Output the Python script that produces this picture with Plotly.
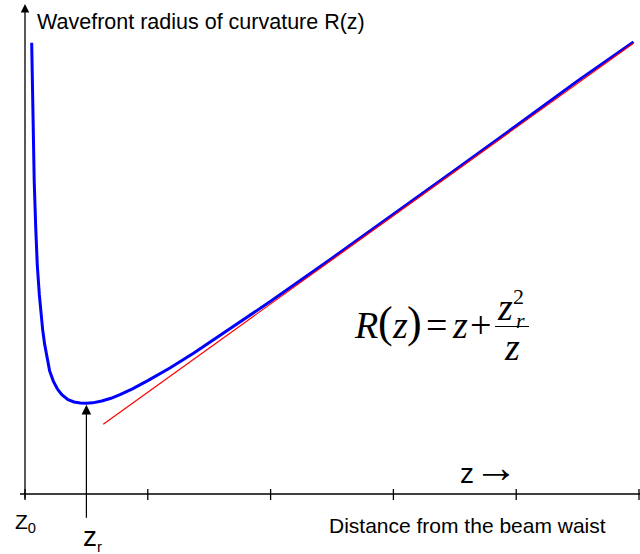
import plotly.graph_objects as go

# Wavefront radius of curvature of a Gaussian beam, in units of the Rayleigh range
z_curve = [0.109, 0.13, 0.15, 0.174, 0.2, 0.233, 0.26, 0.288, 0.32, 0.353, 0.4, 0.461,
           0.53, 0.6, 0.7, 0.8, 0.9, 1.0, 1.1, 1.25, 1.4, 1.547, 1.75, 2.0, 2.36, 2.75,
           3.25, 4.0, 5.0, 6.11, 7.0, 8.0, 9.0, 9.91]
r_curve = [9.95, 7.9, 6.9, 5.9, 5.05, 4.40, 4.0, 3.62, 3.30, 3.02, 2.72, 2.49,
           2.31, 2.19, 2.08, 2.03, 2.005, 2.0, 2.01, 2.05, 2.11, 2.19, 2.32, 2.50, 2.78, 3.11,
           3.56, 4.25, 5.20, 6.27, 7.14, 8.12, 9.11, 9.97]

# Asymptote R = z for large distances
z_asym = [1.275, 9.91]
r_asym = [1.54, 9.94]

tick_z = [0, 2, 4, 6, 8, 10]
z_rayleigh = 1.0
r_at_rayleigh = 2.0

W, H = 640, 554
SANS = "Liberation Sans, Arial, sans-serif"
SERIF = "Liberation Serif, Times New Roman, serif"


def px(x):
    return x / W


def py(y):
    return 1 - y / H


fig = go.Figure()
fig.add_trace(go.Scatter(x=z_curve, y=r_curve, mode="lines",
                         line=dict(color="#0000ff", width=3), hoverinfo="skip"))
fig.add_trace(go.Scatter(x=z_asym, y=r_asym, mode="lines",
                         line=dict(color="#ff0000", width=1.2), hoverinfo="skip"))

# horizontal axis line and tick marks
fig.add_shape(type="line", xref="paper", yref="y", x0=px(20), x1=1.0, y0=0, y1=0,
              line=dict(color="black", width=1.3))
for t in tick_z:
    fig.add_shape(type="line", xref="x", yref="y", x0=t, x1=t,
                  ysizemode="pixel", yanchor=0, y0=-6, y1=5,
                  line=dict(color="black", width=1.3))

# vertical axis with arrowhead
fig.add_annotation(x=0, y=py(4), xref="x", yref="paper", text="", showarrow=True,
                   ax=0, ay=496, axref="pixel", ayref="pixel",
                   arrowhead=2, arrowsize=1.3, arrowwidth=1.3, arrowcolor="black")

# arrow marking the Rayleigh range on the curve minimum
fig.add_annotation(x=z_rayleigh, y=r_at_rayleigh, xref="x", yref="y", text="",
                   showarrow=True, ax=0, ay=116, axref="pixel", ayref="pixel",
                   standoff=1.5, arrowhead=2, arrowsize=1.6, arrowwidth=1.2,
                   arrowcolor="black")


def label(x, y, text, size, family=SANS, anchor="left"):
    fig.add_annotation(x=px(x), y=py(y), xref="paper", yref="paper", text=text,
                       showarrow=False, xanchor=anchor, yanchor="middle",
                       font=dict(family=family, size=size, color="black"))


label(35, 22, "Wavefront radius of curvature R(z)", 21.5)
label(327, 525, "Distance from the beam waist", 21)
label(458, 474, "z", 28)
label(496, 467, "\u2192", 44, SERIF, "center")
label(13, 523, "Z<sub>0</sub>", 21)
label(81, 538, "z<sub><span style='font-size:15px'>r</span></sub>", 28)

# formula R(z) = z + z_r^2 / z
label(366, 325, "<i>R</i>", 38, SERIF, "center")
label(385, 322, "(", 44, SERIF, "center")
label(400, 325, "<i>z</i>", 38, SERIF, "center")
label(414, 322, ")", 44, SERIF, "center")
label(436, 325, "=", 38, SERIF, "center")
label(460, 325, "<i>z</i>", 38, SERIF, "center")
label(480, 325, "+", 38, SERIF, "center")
label(505, 307, "<i>z</i>", 38, SERIF, "center")
label(518, 296, "2", 22, SERIF, "center")
label(520, 320, "<i>r</i>", 22, SERIF, "center")
label(512, 347, "<i>z</i>", 38, SERIF, "center")
fig.add_shape(type="line", xref="paper", yref="paper", x0=px(495), x1=px(529),
              y0=py(326.5), y1=py(326.5), line=dict(color="black", width=1.2))

fig.update_layout(
    width=W, height=H, margin=dict(l=0, r=0, t=0, b=0),
    paper_bgcolor="white", plot_bgcolor="white", showlegend=False,
    xaxis=dict(range=[-25 / 61.4, (W - 25) / 61.4], visible=False),
    yaxis=dict(range=[(494 - H) / 45.35, 494 / 45.35], visible=False),
)

fig.write_html("out.html")
